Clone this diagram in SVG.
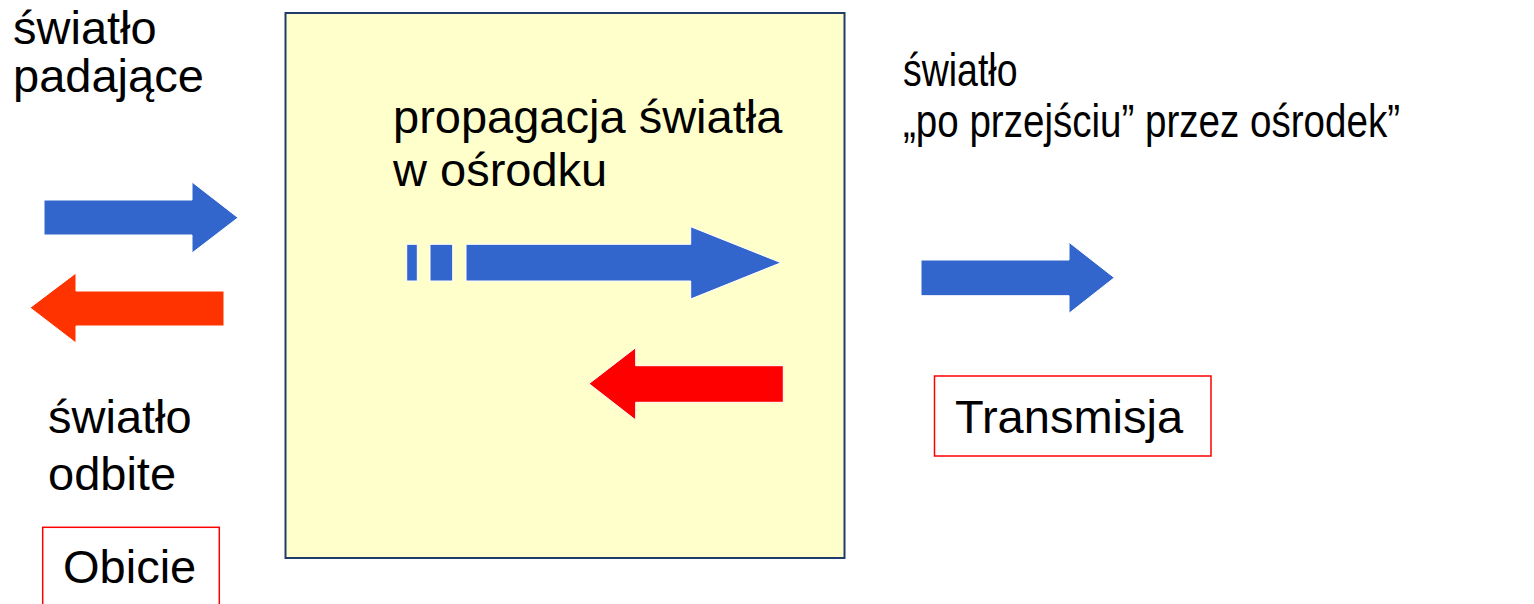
<svg xmlns="http://www.w3.org/2000/svg" width="1534" height="604" viewBox="0 0 1534 604">
<style>
text{font-family:"Liberation Sans",Arial,sans-serif;font-size:47px;fill:#000}
.blue{fill:#3366cc;stroke:#ffffff;stroke-width:1}
.orange{fill:#ff3300;stroke:#ffffff;stroke-width:1}
.red{fill:#ff0000;stroke:#ffffff;stroke-width:1}
.lbl{fill:none;stroke:#ff0000;stroke-width:1.5}
</style>
<rect width="1534" height="604" fill="#ffffff"/>
<g id="medium">
<rect x="285.5" y="13" width="559" height="545" fill="#ffffcc" stroke="#1f3d6b" stroke-width="2"/>
<text x="393" y="133">propagacja światła</text>
<text x="393" y="186">w ośrodku</text>
</g>
<g id="incident">
<text x="13" y="44">światło</text>
<text x="13" y="92">padające</text>
</g>
<g id="reflected">
<text x="48" y="433">światło</text>
<text x="48" y="490">odbite</text>
</g>
<g id="obicie">
<rect x="42.7" y="527.3" width="176.6" height="90" class="lbl"/>
<text x="63" y="583">Obicie</text>
</g>
<g id="transmitted">
<text x="903" y="86" textLength="114.5" lengthAdjust="spacingAndGlyphs">światło</text>
<text x="903" y="137" textLength="497" lengthAdjust="spacingAndGlyphs">„po przejściu” przez ośrodek”</text>
</g>
<g id="transmisja">
<rect x="934.5" y="376" width="276.5" height="80" class="lbl"/>
<text x="955" y="433">Transmisja</text>
</g>
<g id="connectors">
<polygon class="blue" points="44,200 192,200 192,182 238,217.7 192,253 192,235 44,235"/>
<polygon class="orange" points="224,291 76,291 76,273 30,307.7 76,343 76,326 224,326"/>
<rect class="blue" x="406.7" y="244.3" width="10.6" height="36.7" stroke="none"/>
<rect class="blue" x="430" y="244.3" width="22.7" height="36.7" stroke="none"/>
<polygon class="blue" points="466,244.3 690.7,244.3 690.7,226.7 781,262.7 690.7,299 690.7,281 466,281"/>
<polygon class="red" points="783.3,365.7 635.7,365.7 635.7,347.7 589,383.7 635.7,420 635.7,402.3 783.3,402.3"/>
<polygon class="blue" points="921,260 1069,260 1069,242.3 1114.3,277.7 1069,313.3 1069,295.7 921,295.7"/>
</g>
</svg>
